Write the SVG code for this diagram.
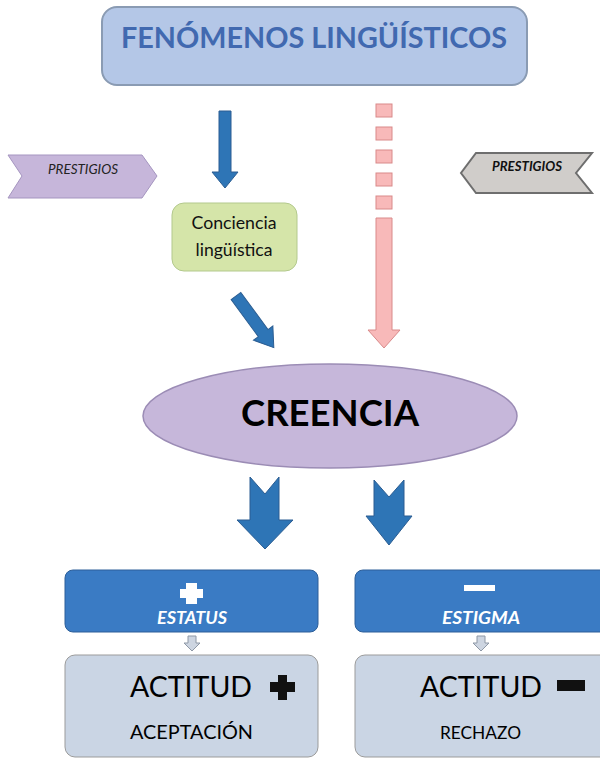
<svg xmlns="http://www.w3.org/2000/svg" width="600" height="760" viewBox="0 0 600 760">
<style>
.blue{fill:#2e75b6;stroke:#2b5d92;stroke-width:1}
.pink{fill:#f8b9b9;stroke:#d98a8a;stroke-width:1}
.t{font-family:Lato,"Open Sans","Liberation Sans",sans-serif}
</style>
<rect width="600" height="760" fill="#ffffff"/>
<g id="fenomenos">
<rect x="102" y="7" width="425" height="78" rx="15" fill="#b4c7e7" stroke="#8a9bb3" stroke-width="2"/>
<text class="t" x="314" y="48" text-anchor="middle" font-size="28" font-weight="bold" fill="#4169b0" textLength="386" lengthAdjust="spacingAndGlyphs">FENÓMENOS LINGÜÍSTICOS</text>
</g>
<g id="prestigios-left">
<polygon points="8,155 142,155 157,176 142,198 8,198 22,176" fill="#c6b6da" stroke="#a595c0" stroke-width="1"/>
<text class="t" x="83" y="174" text-anchor="middle" font-size="12.5" font-style="italic" fill="#222" textLength="70" lengthAdjust="spacingAndGlyphs">PRESTIGIOS</text>
</g>
<g id="prestigios-right">
<polygon points="476,153 592,153 576,173 592,193 476,193 461,173" fill="#d0cdca" stroke="#6e6e6e" stroke-width="2"/>
<text class="t" x="527" y="171" text-anchor="middle" font-size="12.5" font-style="italic" font-weight="bold" fill="#111" textLength="70" lengthAdjust="spacingAndGlyphs">PRESTIGIOS</text>
</g>
<g id="conciencia">
<rect x="172" y="203" width="125" height="68" rx="12" fill="#d5e5a9" stroke="#b3c98d" stroke-width="1"/>
<text class="t" x="234" y="229" text-anchor="middle" font-size="16.5" fill="#111" textLength="85" lengthAdjust="spacingAndGlyphs">Conciencia</text>
<text class="t" x="234" y="256" text-anchor="middle" font-size="16.5" fill="#111" textLength="77" lengthAdjust="spacingAndGlyphs">lingüística</text>
</g>
<g id="creencia">
<ellipse cx="330" cy="416" rx="187" ry="52" fill="#c6b7da" stroke="#9b8cb5" stroke-width="1.5"/>
<text class="t" x="330" y="426" text-anchor="middle" font-size="37" font-weight="bold" fill="#000" textLength="178" lengthAdjust="spacingAndGlyphs">CREENCIA</text>
</g>
<g id="estatus">
<rect x="65" y="570" width="253" height="62" rx="8" fill="#3a7bc4" stroke="#2c5e99" stroke-width="1"/>
<path d="M186,583 h11 v6 h6 v9 h-6 v6 h-11 v-6 h-6 v-9 h6 z" fill="#ffffff"/>
<text class="t" x="192" y="624" text-anchor="middle" font-size="16.5" font-style="italic" font-weight="bold" fill="#ffffff" textLength="70" lengthAdjust="spacingAndGlyphs">ESTATUS</text>
</g>
<g id="actitud-pos">
<rect x="65" y="655" width="253" height="102" rx="10" fill="#cad5e4" stroke="#9b9b9b" stroke-width="1"/>
<text class="t" x="130" y="697" font-size="28" fill="#000" textLength="122" lengthAdjust="spacingAndGlyphs">ACTITUD</text>
<path d="M278,675 h9 v7 h8 v10 h-8 v8 h-9 v-8 h-8 v-10 h8 z" fill="#111"/>
<text class="t" x="130" y="739" font-size="19" fill="#000" textLength="123" lengthAdjust="spacingAndGlyphs">ACEPTACIÓN</text>
</g>
<g id="estigma">
<rect x="355" y="570" width="255" height="62" rx="8" fill="#3a7bc4" stroke="#2c5e99" stroke-width="1"/>
<rect x="464" y="585" width="31" height="6" fill="#ffffff"/>
<text class="t" x="481" y="624" text-anchor="middle" font-size="16.5" font-style="italic" font-weight="bold" fill="#ffffff" textLength="78" lengthAdjust="spacingAndGlyphs">ESTIGMA</text>
</g>
<g id="actitud-neg">
<rect x="355" y="655" width="255" height="102" rx="10" fill="#cad5e4" stroke="#9b9b9b" stroke-width="1"/>
<text class="t" x="420" y="697" font-size="28" fill="#000" textLength="122" lengthAdjust="spacingAndGlyphs">ACTITUD</text>
<rect x="557" y="680" width="28" height="11" fill="#111"/>
<text class="t" x="440" y="739" font-size="17.5" fill="#000" textLength="81" lengthAdjust="spacingAndGlyphs">RECHAZO</text>
</g>
<g id="connectors">
<polygon class="blue" points="219,111 231,111 231,172 238,172 225,188 212,172 219,172"/>
<g class="pink">
<rect x="376" y="104" width="16" height="13"/>
<rect x="376" y="127" width="16" height="13"/>
<rect x="376" y="150" width="16" height="13"/>
<rect x="376" y="173" width="16" height="13"/>
<rect x="376" y="196" width="16" height="13"/>
<polygon points="376,218 392,218 392,330 400,330 384,348 368,330 376,330"/>
</g>
<polygon class="blue" transform="translate(236,296) rotate(53.8)" points="0,-6 46,-6 46,-12 64,0 46,12 46,6 0,6"/>
<polygon class="blue" points="250,477 265,494 279,477 279,520 293,520 265,549 237,520 250,520"/>
<polygon class="blue" points="374,480 389,497 404,480 404,516 412,516 389,545 366,516 374,516"/>
<polygon points="188,636 196,636 196,643 200,643 192,651 184,643 188,643" fill="#cdd5e1" stroke="#8e98a6" stroke-width="1"/>
<polygon points="477,636 485,636 485,643 489,643 481,651 473,643 477,643" fill="#cdd5e1" stroke="#8e98a6" stroke-width="1"/>
</g>
</svg>
